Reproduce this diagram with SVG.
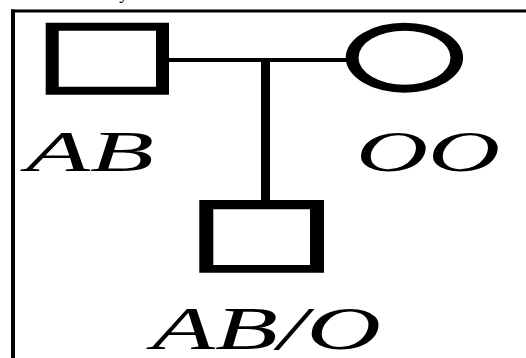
<svg xmlns="http://www.w3.org/2000/svg" width="526" height="358" viewBox="0 0 526 358">
  <style>
    .ink { fill: #000; fill-rule: evenodd; }
    .line { stroke: #000; fill: none; }
    .lbl { font-family: "Liberation Serif", "Times New Roman", serif; font-style: italic; fill: #000; }
  </style>
  <rect width="526" height="358" fill="#fff"/>
  <!-- frame: top and left edges -->
  <g id="frame">
    <rect x="11" y="9.5" width="515" height="3" fill="#000"/>
    <rect x="11" y="9.5" width="4" height="348.5" fill="#000"/>
    <text class="lbl" x="121" y="-1" font-size="18">y</text>
  </g>
  <!-- connectors: marriage line and descent line -->
  <g id="connectors">
    <rect x="168" y="58" width="180" height="4" fill="#000"/>
    <rect x="261" y="60" width="9" height="141" fill="#000"/>
  </g>
  <!-- father -->
  <g id="father">
    <path class="ink" d="M45.7 22.7 H169 V94.7 H45.7 Z M58.7 30.7 V86.7 H156 V30.7 Z"/>
    <text class="lbl" x="26" y="171" font-size="57" textLength="128" lengthAdjust="spacingAndGlyphs">AB</text>
  </g>
  <!-- mother -->
  <g id="mother">
    <path class="ink" d="M345.7 57.7 A58.7 35 0 1 0 463.1 57.7 A58.7 35 0 1 0 345.7 57.7 Z M358.5 57.7 A46 27 0 1 1 450.5 57.7 A46 27 0 1 1 358.5 57.7 Z"/>
    <text class="lbl" x="356" y="171" font-size="57" textLength="144" lengthAdjust="spacingAndGlyphs">OO</text>
  </g>
  <!-- child -->
  <g id="child">
    <path class="ink" d="M199.3 200 H324 V272.7 H199.3 Z M213.3 209.3 V265 H310 V209.3 Z"/>
    <text class="lbl" x="152" y="349" font-size="62" textLength="229" lengthAdjust="spacingAndGlyphs">AB/O</text>
  </g>
</svg>
